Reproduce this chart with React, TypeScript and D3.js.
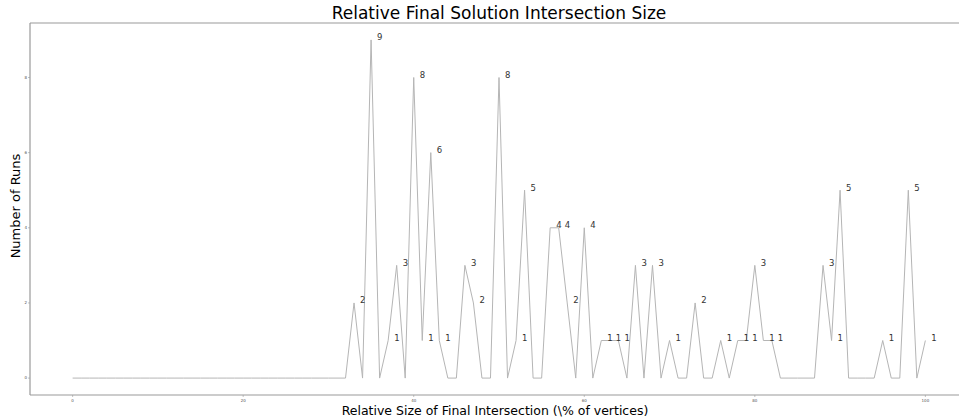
import React, { FC, useMemo } from 'react'
import * as d3 from 'd3'

// number of runs for each relative size (index = % of vertices, 0..100)
const runCounts: number[] = [
	0, 0, 0, 0, 0, 0, 0, 0, 0, 0,
	0, 0, 0, 0, 0, 0, 0, 0, 0, 0,
	0, 0, 0, 0, 0, 0, 0, 0, 0, 0,
	0, 0, 0, 2, 0, 9, 0, 1, 3, 0,
	8, 1, 6, 1, 0, 0, 3, 2, 0, 0,
	8, 0, 1, 5, 0, 0, 4, 4, 2, 0,
	4, 0, 1, 1, 1, 0, 3, 0, 3, 0,
	1, 0, 0, 2, 0, 0, 1, 0, 1, 1,
	3, 1, 1, 0, 0, 0, 0, 0, 3, 1,
	5, 0, 0, 0, 0, 1, 0, 0, 5, 0,
	1
]
const xTicks = [0, 20, 40, 60, 80, 100]
const yTicks = [0, 2, 4, 6, 8]

const W = 959
const H = 419
const FONT = 'DejaVu Sans, sans-serif'

const App: FC = () => {
	const left = 30
	const right = 968
	const top = 23
	const bottom = 395

	const points = runCounts.map((v, i) => ({ x: i, y: v }))

	const xScale = useMemo(() => d3.scaleLinear().domain([-5, 105]).range([left, right]), [])
	const yScale = useMemo(() => d3.scaleLinear().domain([-0.45, 9.45]).range([bottom, top]), [])

	const line = d3
		.line<{ x: number; y: number }>()
		.x(d => xScale(d.x))
		.y(d => yScale(d.y))

	return (
		<svg
			width={W}
			height={H}
			style={{ position: 'absolute', left: 0, top: 0, background: '#fff' }}
			fontFamily={FONT}
		>
			{/* title */}
			<text x={(left + right) / 2} y={18.5} textAnchor="middle" fontSize={17} fill="#000">
				Relative Final Solution Intersection Size
			</text>

			{/* spines (right one falls outside the window) */}
			<line x1={left} x2={W} y1={top} y2={top} stroke="#999" strokeWidth={1.2} />
			<line x1={left} x2={W} y1={bottom} y2={bottom} stroke="#999" strokeWidth={1.2} />
			<line x1={left} x2={left} y1={top} y2={bottom} stroke="#999" strokeWidth={1.2} />

			{/* x ticks */}
			{xTicks.map(t => (
				<g key={'x' + t} transform={`translate(${xScale(t)},${bottom})`}>
					<line y1={0} y2={2} stroke="#999" strokeWidth={0.6} />
					<text y={6.5} textAnchor="middle" fontSize={4} fill="#555">
						{t}
					</text>
				</g>
			))}

			{/* y ticks */}
			{yTicks.map(t => (
				<g key={'y' + t} transform={`translate(${left},${yScale(t)})`}>
					<line x1={-2} x2={0} stroke="#999" strokeWidth={0.6} />
					<text x={-3} dy="0.35em" textAnchor="end" fontSize={4} fill="#555">
						{t}
					</text>
				</g>
			))}

			{/* main line */}
			<path d={line(points) || ''} fill="none" stroke="#b5b5b5" strokeWidth={1} />

			{/* value labels */}
			{points
				.filter(d => d.y > 0)
				.map(d => (
					<text
						key={'l' + d.x}
						x={xScale(d.x) + 6}
						y={yScale(d.y) + 0.5}
						fontSize={8.5}
						fill="#333"
					>
						{d.y}
					</text>
				))}

			{/* axis labels */}
			<text x={495} y={415} textAnchor="middle" fontSize={12.5} fill="#000">
				Relative Size of Final Intersection (\% of vertices)
			</text>
			<text
				transform={`translate(20,${(top + bottom) / 2 - 3}) rotate(-90)`}
				textAnchor="middle"
				fontSize={13}
				fill="#000"
			>
				Number of Runs
			</text>
		</svg>
	)
}

export default App
